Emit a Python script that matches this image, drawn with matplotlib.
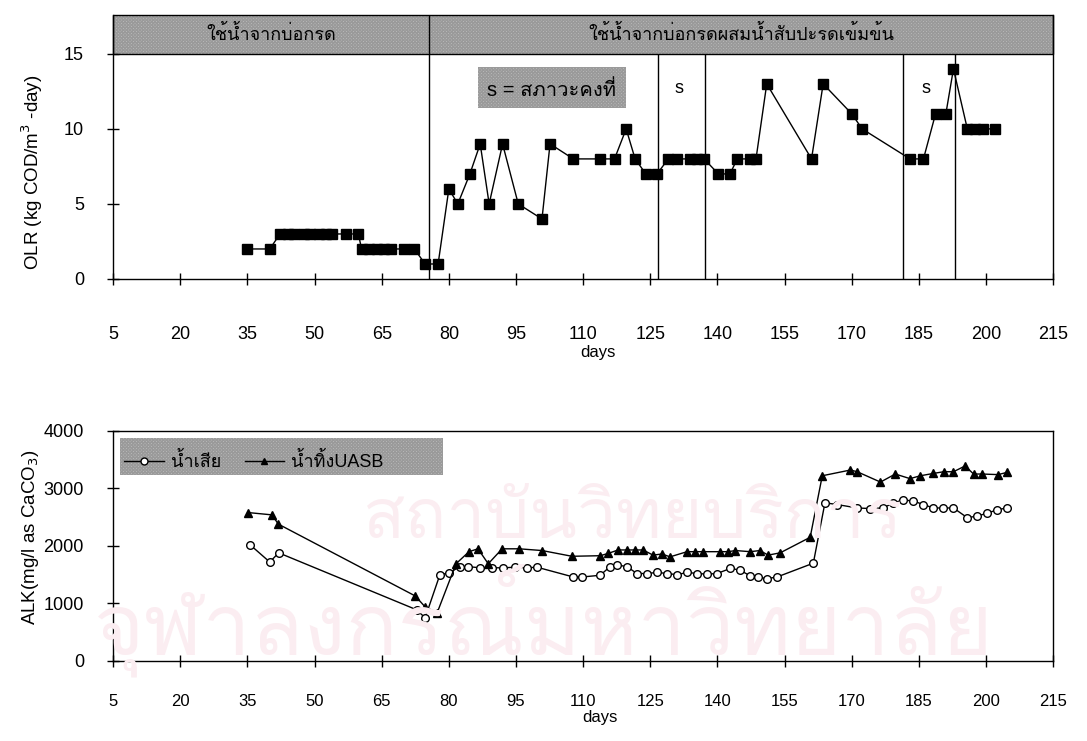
import matplotlib
matplotlib.use('Agg')
from matplotlib import pyplot as plt
from matplotlib import font_manager
from matplotlib.ft2font import FT2Font
from matplotlib.patches import Rectangle
from matplotlib.lines import Line2D


def find_thai_font():
    # first installed family that has Thai glyphs
    for entry in font_manager.fontManager.ttflist:
        try:
            if 0x0E19 in FT2Font(entry.fname).get_charmap():
                return entry.name
        except Exception:
            continue
    return 'DejaVu Sans'


THAI = find_thai_font()
INSTALLED = {f.name for f in font_manager.fontManager.ttflist}
NARROW = 'Liberation Sans Narrow' in INSTALLED
plt.rcParams['font.family'] = ['Liberation Sans', THAI, 'DejaVu Sans']

# organic loading rate (kg COD/m3-day)
olr_days = [35, 40,
            42.3, 44, 45.5, 47.7, 49, 51, 52.5, 54, 57, 59.8,
            60.5, 62.2, 64, 65.5, 67, 70, 72.3, 74.7, 77.6,
            80, 82, 84.7, 87, 89, 92, 95.5, 100.8, 102.6, 107.8,
            113.8, 117, 119.6, 121.6, 124, 126.5,
            129, 131, 133.8, 135.4, 137,
            140.2, 142.8, 144.4, 147.3, 148.6, 151, 161, 163.6, 170, 172.3,
            183, 186, 188.7, 191, 192.7, 195.8, 197.6, 199.4, 202]
olr_values = [2, 2,
              3, 3, 3, 3, 3, 3, 3, 3, 3, 3,
              2, 2, 2, 2, 2, 2, 2, 1, 1,
              6, 5, 7, 9, 5, 9, 5, 4, 9, 8,
              8, 8, 10, 8, 7, 7,
              8, 8, 8, 8, 8,
              7, 7, 8, 8, 8, 13, 8, 13, 11, 10,
              8, 8, 11, 11, 14, 10, 10, 10, 10]

# phase boundaries and steady-state windows
feed_change_day = 75.6
steady_lines = [126.8, 137.3, 181.5, 193]
steady_marks = [131.5, 186.5]

# alkalinity (mg/l as CaCO3)
ww_days = [35.6, 40, 42, 72.8, 74.7, 78, 80, 82.5, 84.3, 87, 89.7, 92.2, 94.8,
           97.5, 99.7, 107.8, 109.8, 113.8, 116, 117.5, 119.8, 122, 124.3,
           126.5, 128.8, 131, 133.2, 135.5, 137.7, 139.9, 142.9, 145, 147.3,
           149, 151, 153.3, 161.4, 164, 166.7, 171.2, 174.1, 177, 179.3,
           181.5, 183.7, 186, 188.2, 190.3, 192.7, 195.8, 198, 200.3, 202.5,
           204.7]
ww_alk = [2020, 1720, 1880, 890, 750, 1500, 1530, 1640, 1640, 1620, 1620,
          1620, 1630, 1620, 1630, 1460, 1460, 1490, 1640, 1670, 1640, 1520,
          1520, 1540, 1520, 1500, 1540, 1520, 1510, 1520, 1610, 1580, 1480,
          1460, 1430, 1460, 1700, 2750, 2720, 2660, 2650, 2660, 2750, 2800,
          2780, 2720, 2660, 2660, 2660, 2490, 2520, 2570, 2630, 2660]

uasb_days = [35.2, 40.5, 41.9, 72.5, 74.7, 77.4, 81.6, 84.5, 86.5, 88.8,
             91.9, 95.7, 100.8, 107.5, 113.8, 115.6, 117.8, 119.8, 121.5,
             123.4, 125.6, 127.6, 129.4, 133.2, 135, 136.8, 140.6, 142.4, 144,
             147.3, 149.5, 151.3, 154, 160.7, 163.4, 169.7, 171.2, 176.4,
             179.7, 183, 185.3, 188.2, 190.5, 192.7, 195.3, 197.2, 199.1,
             202.7, 204.7]
uasb_alk = [2580, 2540, 2380, 1130, 940, 840, 1690, 1900, 1950, 1690, 1950,
            1950, 1920, 1820, 1830, 1870, 1930, 1930, 1930, 1930, 1840, 1860,
            1810, 1900, 1900, 1900, 1900, 1900, 1920, 1900, 1920, 1840, 1880,
            2150, 3220, 3320, 3290, 3110, 3250, 3170, 3220, 3260, 3290, 3290,
            3390, 3250, 3250, 3240, 3280]

x_ticks = list(range(5, 216, 15))
BAND_GRAY = '#c2c2c2'
HATCH_GRAY = '#9a9a9a'
MARK_PINK = '#fbedf1'


def shaded_box(ax, x0, y0, w, h, border=True):
    ax.add_patch(Rectangle((x0, y0), w, h, facecolor=BAND_GRAY, edgecolor=HATCH_GRAY,
                           hatch='xxxxxxxxxx', lw=0, clip_on=False, zorder=1))
    if border:
        ax.add_patch(Rectangle((x0, y0), w, h, fill=False, edgecolor='black',
                               lw=1, clip_on=False, zorder=2))


def style_axis(ax, pad):
    ax.set_xlim(5, 215)
    ax.set_xticks(x_ticks)
    ax.tick_params(axis='both', direction='inout', length=8, width=1,
                   labelsize=13, top=False, right=False)
    ax.tick_params(axis='x', pad=pad)
    ax.tick_params(axis='y', pad=17)
    for sp in ax.spines.values():
        sp.set_linewidth(1)


fig = plt.figure(figsize=(10.87, 7.41), dpi=100)

# pale watermark behind the lower panel
fig.text(0.582, 0.298, 'สถาบันวิทยบริการ', fontsize=50, color=MARK_PINK,
         ha='center', va='center', zorder=0, family=[THAI, 'DejaVu Sans'])
fig.text(0.5, 0.163, 'จุฬาลงกรณ์มหาวิทยาลัย', fontsize=62, color=MARK_PINK,
         ha='center', va='center', zorder=0, family=[THAI, 'DejaVu Sans'])

# ---- OLR panel ----
ax1 = fig.add_axes([0.104, 0.6235, 0.865, 0.3565])
ax1.patch.set_alpha(0)
style_axis(ax1, pad=30)
ax1.set_ylim(0, 17.6)
ax1.set_yticks([0, 5, 10, 15])
ax1.spines['top'].set_visible(False)

shaded_box(ax1, 5, 15, 210, 2.6)
ax1.vlines(feed_change_day, 0, 17.6, colors='black', lw=1, zorder=2)
ax1.vlines(steady_lines, 0, 15, colors='black', lw=1, zorder=2)
ax1.text((5 + feed_change_day) / 2, 16.3, 'ใช้น้ำจากบ่อกรด', ha='center', va='center',
         fontsize=13, zorder=3)
ax1.text((feed_change_day + 215) / 2, 16.3, 'ใช้น้ำจากบ่อกรดผสมน้ำสับปะรดเข้มข้น',
         ha='center', va='center', fontsize=13, zorder=3)

shaded_box(ax1, 86.5, 11.4, 33, 2.7, border=False)
ax1.text(103, 12.6, 's = สภาวะคงที่', ha='center', va='center', fontsize=14.5, zorder=3)
for d in steady_marks:
    ax1.text(d, 12.7, 's', ha='center', va='center', fontsize=13)

ax1.plot(olr_days, olr_values, color='black', lw=1, marker='s', ms=6.5,
         mfc='black', mec='black', zorder=4)
ax1.set_ylabel('OLR (kg COD/m$^3$ -day)', fontsize=13.5)
ax1.yaxis.set_label_coords(-0.072, 0.405)
ax1.set_xlabel('days', fontsize=12)
ax1.xaxis.set_label_coords(0.516, -0.25)

# ---- alkalinity panel ----
ax2 = fig.add_axes([0.104, 0.108, 0.865, 0.3105])
ax2.patch.set_alpha(0)
style_axis(ax2, pad=20)
ax2.set_ylim(0, 4000)
ax2.set_yticks([0, 1000, 2000, 3000, 4000])
for lbl in ax2.get_xticklabels():
    if NARROW:
        lbl.set_family(['Liberation Sans Narrow', 'Liberation Sans'])
    else:
        lbl.set_fontsize(12)

ax2.plot(ww_days, ww_alk, color='black', lw=1, marker='o', ms=5.5,
         mfc='white', mec='black', mew=1, zorder=4)
ax2.plot(uasb_days, uasb_alk, color='black', lw=1, marker='^', ms=6,
         mfc='black', mec='black', zorder=4)

shaded_box(ax2, 6.6, 3230, 72, 650, border=False)
handles = [Line2D([], [], color='black', lw=1, marker='o', ms=5, mfc='white', mec='black'),
           Line2D([], [], color='black', lw=1, marker='^', ms=4, mfc='black', mec='black')]
ax2.legend(handles, ['น้ำเสีย', 'น้ำทิ้งUASB'], ncol=2, frameon=False, fontsize=13,
           loc='center left', bbox_to_anchor=(0.0, 0.865), handlelength=2.2,
           handletextpad=0.4, columnspacing=1.3, borderaxespad=0.2)

ax2.set_ylabel('ALK(mg/l as CaCO$_3$)', fontsize=13.5)
ax2.yaxis.set_label_coords(-0.077, 0.54)
ax2.set_xlabel('days', fontsize=12)
ax2.xaxis.set_label_coords(0.518, -0.212)

fig.savefig('out.png', dpi=100)
